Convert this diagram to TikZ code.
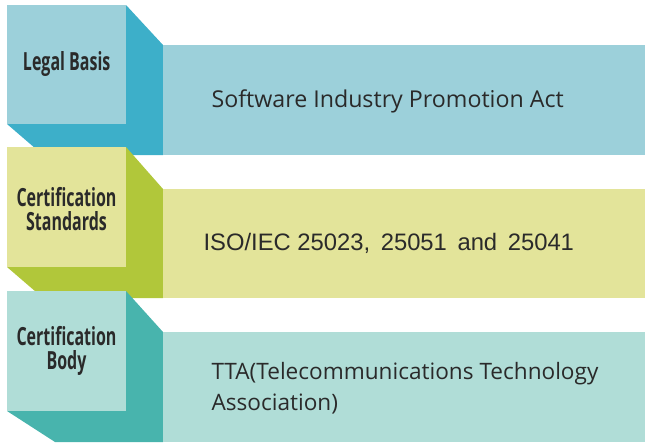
\documentclass[tikz,border=0pt]{standalone}
\usepackage{fontspec}
\usetikzlibrary{calc}
\setmainfont{Open Sans}
\newfontfamily\arialfont{Liberation Sans}
\definecolor{frontA}{HTML}{9CD0DA}
\definecolor{shadeA}{HTML}{3DAFC9}
\definecolor{frontB}{HTML}{E3E49A}
\definecolor{shadeB}{HTML}{B1C73A}
\definecolor{frontC}{HTML}{B0DDD7}
\definecolor{shadeC}{HTML}{48B4AD}
\definecolor{txt}{HTML}{2A2A2A}
\newcommand{\lbl}[1]{\scalebox{0.64}[1]{#1}}
\tikzset{
  frontbox/.style={draw=none, minimum width=119pt, minimum height=119pt, inner sep=0pt, anchor=north west},
  panelbox/.style={draw=none, minimum width=482pt, inner sep=0pt, anchor=north west},
  lbltext/.style={text=txt, align=center, font=\bfseries\fontsize{25}{24}\selectfont},
  paneltext/.style={text=txt, anchor=west, align=left, font=\fontsize{23.2}{31}\selectfont},
}
\begin{document}
\begin{tikzpicture}[x=1pt,y=-1pt]
\useasboundingbox (0,0) rectangle (648,445);
% ---- row 1
\fill[shadeA] (126,5) -- (163,45) -- (163,155) -- (43,155) -- (7,124) -- (126,124) -- cycle;
\node[panelbox, fill=frontA, minimum height=110pt] (p1) at (163,45) {};
\node[frontbox, fill=frontA] (f1) at (7,5) {};
\node[lbltext] (l1) at ($(f1.center)+(0,-1)$) {\lbl{Legal Basis}};
\node[paneltext] (t1) at (208,101) {Software Industry Promotion Act};
% ---- row 2
\fill[shadeB] (126,147) -- (163,189) -- (163,298) -- (43,298) -- (7,267) -- (126,267) -- cycle;
\node[panelbox, fill=frontB, minimum height=109pt] (p2) at (163,189) {};
\node[frontbox, fill=frontB, minimum height=120pt] (f2) at (7,147) {};
\node[lbltext] (l2) at (66.5,209) {\lbl{Certification}\\\lbl{Standards}};
\node[paneltext, font=\arialfont\fontsize{23.8}{26}\selectfont] (t2) at (200,243) {ISO/IEC 25023,\, 25051\, and\, 25041};
% ---- row 3
\fill[shadeC] (126,291) -- (163,332) -- (163,442) -- (55,442) -- (7,411) -- (126,411) -- cycle;
\node[panelbox, fill=frontC, minimum height=110pt] (p3) at (163,332) {};
\node[frontbox, fill=frontC, minimum height=120pt] (f3) at (7,291) {};
\node[lbltext] (l3) at (66.5,351) {\lbl{Certification}\\\lbl{Body}};
\node[paneltext, font=\fontsize{22.6}{31}\selectfont] (t3) at (208,388) {TTA(Telecommunications Technology\\Association)};
\end{tikzpicture}
\end{document}
